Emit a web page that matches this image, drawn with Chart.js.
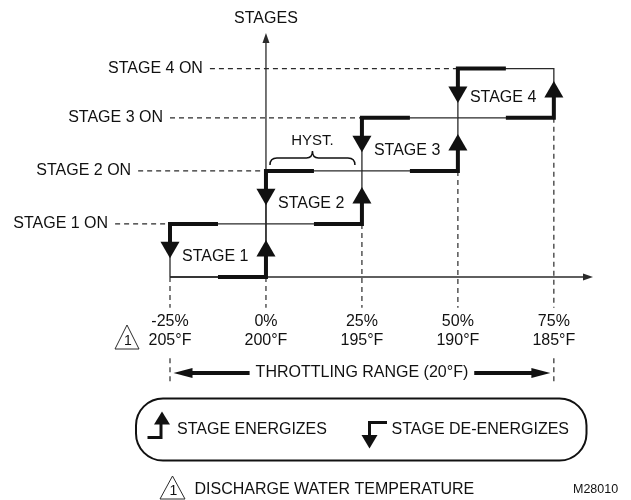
<!DOCTYPE html>
<html lang="en">
<head>
<meta charset="UTF-8">
<title>Stage Hysteresis</title>
<script src="https://cdn.jsdelivr.net/npm/chart.js"></script>
<style>
  html, body { margin: 0; padding: 0; background: #ffffff; }
  .wrap { position: relative; width: 631px; height: 500px; }
</style>
</head>
<body>
<div class="wrap"><canvas id="stages"></canvas></div>
<script>
// throttling range (percent) and the matching discharge water temperature
const pctTicks = [-25, 0, 25, 50, 75];
const tempLabels = ['205°F', '200°F', '195°F', '190°F', '185°F'];
// height of each stage line, 0 = all stages off
const stageLevels = [0, 1, 2, 3, 3.93];
const stageNames = ['STAGE 1', 'STAGE 2', 'STAGE 3', 'STAGE 4'];
const onLabels = ['STAGE 1 ON', 'STAGE 2 ON', 'STAGE 3 ON', 'STAGE 4 ON'];

// layout bits
const onGuideFrom = [-39.3, -33.3, -25, -14.6];   // start of each "ON" dashed guide
const UP_OFF = 0.49, DOWN_OFF = 0.44;           // arrow head centres inside a stage
const FONT = '"Liberation Sans", Arial, Helvetica, sans-serif';
const INK = '#111111', THIN = '#2a2a2a';

function path(points, width, color, order, dash) {
    return {
        data: points, showLine: true, borderColor: color, borderWidth: width,
        borderDash: dash || [], pointRadius: 0, clip: false, order: order,
        borderJoinStyle: 'miter', borderCapStyle: 'butt'
    };
}
function arrows(points, rotation) {
    return {
        data: points, showLine: false, pointStyle: 'triangle', pointRadius: 11,
        pointRotation: rotation, backgroundColor: INK, borderWidth: 0,
        pointBorderWidth: 0, clip: false, order: 1
    };
}

const datasets = [];
const ups = [], downs = [];
for (let k = 1; k < stageLevels.length; k++) {
    const x0 = pctTicks[k - 1], x1 = pctTicks[k];
    const lo = stageLevels[k - 1], hi = stageLevels[k];
    const mid = (x0 + x1) / 2;
    // thin outline of the stage loop
    datasets.push(path([{x: x0, y: lo}, {x: x0, y: hi}, {x: x1, y: hi}, {x: x1, y: lo}, {x: x0, y: lo}], 1.3, THIN, 4));
    // de-energize side (top left)
    datasets.push(path([{x: mid, y: hi}, {x: x0, y: hi}, {x: x0, y: hi - DOWN_OFF}], 4, INK, 2));
    // energize side (bottom right)
    datasets.push(path([{x: mid, y: lo}, {x: x1, y: lo}, {x: x1, y: lo + UP_OFF}], 4, INK, 2));
    downs.push({x: x0, y: hi - DOWN_OFF});
    ups.push({x: x1, y: lo + UP_OFF});
    // "STAGE n ON" guide
    datasets.push(path([{x: onGuideFrom[k - 1], y: hi}, {x: x0, y: hi}], 1.2, THIN, 5, [5, 4]));
}
datasets.push(arrows(ups, 0));
datasets.push(arrows(downs, 180));

// vertical dashed guides down to the tick labels
pctTicks.forEach((p, i) => {
    const top = i <= 1 ? 0 : stageLevels[i - 1];
    datasets.push(path([{x: p, y: top}, {x: p, y: -0.58}], 1.2, THIN, 5, [5, 4]));
});
// guides framing the throttling range
[pctTicks[0], pctTicks[pctTicks.length - 1]].forEach(p => {
    datasets.push(path([{x: p, y: -1.53}, {x: p, y: -2.0}], 1.2, THIN, 5, [5, 4]));
});

function tri(ctx, ax, ay, bx, by, cx, cy) {
    ctx.beginPath(); ctx.moveTo(ax, ay); ctx.lineTo(bx, by); ctx.lineTo(cx, cy); ctx.closePath(); ctx.fill();
}
function warnMark(ctx, cx, top, w, h) {
    ctx.save();
    ctx.lineWidth = 1; ctx.strokeStyle = THIN;
    ctx.beginPath();
    ctx.moveTo(cx, top); ctx.lineTo(cx - w / 2, top + h); ctx.lineTo(cx + w / 2, top + h);
    ctx.closePath(); ctx.stroke();
    ctx.font = '14px ' + FONT; ctx.textAlign = 'center'; ctx.textBaseline = 'middle';
    ctx.fillText('1', cx + 1, top + h * 0.66);
    ctx.restore();
}

const diagram = {
    id: 'diagram',
    beforeDatasetsDraw(chart) {
        const {ctx, chartArea: a, scales: {x, y}} = chart;
        const ox = x.getPixelForValue(0), oy = y.getPixelForValue(0);
        ctx.save();
        ctx.strokeStyle = THIN; ctx.fillStyle = THIN; ctx.lineWidth = 1.3;
        // x axis
        ctx.beginPath(); ctx.moveTo(x.getPixelForValue(pctTicks[0]), oy); ctx.lineTo(a.right - 8, oy); ctx.stroke();
        tri(ctx, a.right, oy, a.right - 10, oy - 3.5, a.right - 10, oy + 3.5);
        // y axis
        ctx.beginPath(); ctx.moveTo(ox, oy); ctx.lineTo(ox, a.top + 8); ctx.stroke();
        tri(ctx, ox, a.top, ox - 3.5, a.top + 10, ox + 3.5, a.top + 10);
        ctx.restore();
    },
    afterDatasetsDraw(chart) {
        const {ctx, scales: {x, y}} = chart;
        const ox = x.getPixelForValue(0);
        ctx.save();
        ctx.fillStyle = INK;
        ctx.font = '16px ' + FONT;
        ctx.textBaseline = 'middle';

        ctx.textAlign = 'center';
        ctx.fillText('STAGES', ox, 19);

        // ON labels
        ctx.textAlign = 'right';
        onLabels.forEach((t, i) => {
            ctx.fillText(t, x.getPixelForValue(onGuideFrom[i]) - 7, y.getPixelForValue(stageLevels[i + 1]));
        });

        // stage names inside loops
        ctx.textAlign = 'left';
        stageNames.forEach((t, i) => {
            ctx.fillText(t, x.getPixelForValue(pctTicks[i]) + 12, y.getPixelForValue(stageLevels[i] + 0.39));
        });

        // ticks
        ctx.textAlign = 'center';
        pctTicks.forEach((p, i) => {
            const px = x.getPixelForValue(p);
            ctx.fillText(p + '%', px, 322);
            ctx.fillText(tempLabels[i], px, 341);
        });
        warnMark(ctx, 127, 325, 24, 24);

        // hysteresis brace over stage 2 top line
        const by = y.getPixelForValue(stageLevels[2]) - 6;
        const bl = x.getPixelForValue(0) + 4, br = x.getPixelForValue(25) - 7;
        const bm = (bl + br) / 2;
        ctx.save();
        ctx.strokeStyle = INK; ctx.lineWidth = 1.5;
        ctx.beginPath();
        ctx.moveTo(bl, by);
        ctx.quadraticCurveTo(bl, by - 7, bl + 7, by - 7);
        ctx.lineTo(bm - 6, by - 7);
        ctx.quadraticCurveTo(bm, by - 7, bm, by - 14);
        ctx.quadraticCurveTo(bm, by - 7, bm + 6, by - 7);
        ctx.lineTo(br - 7, by - 7);
        ctx.quadraticCurveTo(br, by - 7, br, by);
        ctx.stroke();
        ctx.restore();
        ctx.font = '15px ' + FONT;
        ctx.fillText('HYST.', bm, by - 24);

        // throttling range
        ctx.font = '16px ' + FONT;
        const lx = x.getPixelForValue(pctTicks[0]) + 3.5;
        const rx = x.getPixelForValue(pctTicks[pctTicks.length - 1]) - 3.5;
        const cx = x.getPixelForValue(25), ty = 373;
        const label = 'THROTTLING RANGE (20°F)';
        const w = ctx.measureText(label).width;
        ctx.fillText(label, cx, ty);
        ctx.strokeStyle = INK; ctx.lineWidth = 4;
        ctx.beginPath();
        ctx.moveTo(lx + 15, ty); ctx.lineTo(cx - w / 2 - 6, ty);
        ctx.moveTo(cx + w / 2 + 6, ty); ctx.lineTo(rx - 15, ty);
        ctx.stroke();
        tri(ctx, lx, ty, lx + 19, ty - 5, lx + 19, ty + 5);
        tri(ctx, rx, ty, rx - 19, ty - 5, rx - 19, ty + 5);

        // legend box
        ctx.lineWidth = 2;
        ctx.beginPath();
        ctx.roundRect(136, 398.5, 450.5, 62, 27);
        ctx.stroke();
        ctx.lineWidth = 3;
        ctx.beginPath();
        ctx.moveTo(147.5, 437.5); ctx.lineTo(161, 437.5); ctx.lineTo(161, 422);
        ctx.moveTo(387, 422.5); ctx.lineTo(369.5, 422.5); ctx.lineTo(369.5, 437);
        ctx.stroke();
        tri(ctx, 162, 411.5, 154, 424.5, 170, 424.5);
        tri(ctx, 369.5, 448.5, 361.5, 435, 377.5, 435);
        ctx.textAlign = 'left';
        ctx.fillText('STAGE ENERGIZES', 177, 429.5);
        ctx.fillText('STAGE DE-ENERGIZES', 391.5, 429.5);

        // footnote
        warnMark(ctx, 172.5, 476, 25, 23);
        ctx.fillText('DISCHARGE WATER TEMPERATURE', 194.5, 489.5);
        ctx.font = '12.5px ' + FONT;
        ctx.fillText('M28010', 573, 490);
        ctx.restore();
    }
};

new Chart(document.getElementById('stages'), {
    type: 'scatter',
    data: { datasets: datasets },
    options: {
        responsive: true,
        maintainAspectRatio: false,
        animation: false,
        events: [],
        layout: { padding: { left: 170, right: 38, top: 33, bottom: 223 } },
        scales: {
            x: { type: 'linear', min: -25, max: 85.2, display: false },
            y: { type: 'linear', min: 0, max: 4.6, display: false }
        },
        plugins: { legend: { display: false }, tooltip: { enabled: false } }
    },
    plugins: [diagram]
});
</script>
</body>
</html>
